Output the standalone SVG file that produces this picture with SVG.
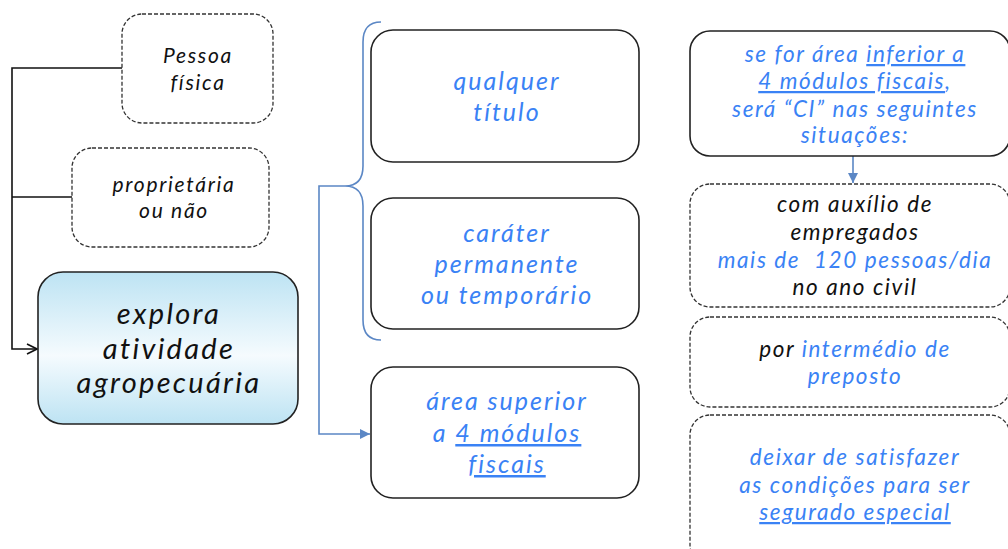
<svg xmlns="http://www.w3.org/2000/svg" width="1008" height="549" viewBox="0 0 1008 549">
<style>
text{font-family:Lato,"Liberation Sans",sans-serif;font-style:italic;text-anchor:middle}
.k{fill:#111}
.b{fill:#3a82f5}
.u{text-decoration:underline}
.s1{font-size:21px;letter-spacing:1.7px}
.s2{font-size:29px;letter-spacing:2.3px}
.s3{font-size:25px;letter-spacing:2px}
.s4{font-size:22.5px;letter-spacing:1.6px}
.solid{fill:#fff;stroke:#222;stroke-width:1.6}
.dash{fill:#fff;stroke:#333;stroke-width:1.3;stroke-dasharray:4 2}
.blk{fill:none;stroke:#111;stroke-width:1.6}
.blu{fill:none;stroke:#5b87c5;stroke-width:1.6}
</style>
<defs>
<linearGradient id="g" x1="0" y1="0" x2="0" y2="1">
<stop offset="0" stop-color="#bde3f3"/>
<stop offset="0.55" stop-color="#f5fbfe"/>
<stop offset="1" stop-color="#bde3f3"/>
</linearGradient>
<marker id="ab" viewBox="0 0 10 10" refX="10" refY="5" markerWidth="10" markerHeight="10" markerUnits="userSpaceOnUse" orient="auto">
<path d="M0,0 L10,5 L0,10 z" fill="#5b87c5"/>
</marker>
<marker id="ao" viewBox="0 0 12 12" refX="11" refY="6" markerWidth="12" markerHeight="12" markerUnits="userSpaceOnUse" orient="auto">
<path d="M1,1 L11,6 L1,11" fill="none" stroke="#111" stroke-width="1.6"/>
</marker>
</defs>
<g id="connectors">
<path class="blk" d="M122,68 H12 V349 H37" marker-end="url(#ao)"/>
<path class="blk" d="M72,197 H12"/>
<path class="blu" d="M381,22 Q363,22 363,42 V166 Q363,186 345,186 Q363,186 363,206 V320 Q363,340 381,340"/>
<path class="blu" d="M345,186 H319 V434 H370" marker-end="url(#ab)"/>
<path class="blu" d="M853,156 V183" marker-end="url(#ab)"/>
</g>
<g id="pessoa">
<rect class="dash" x="122" y="14" width="151" height="109" rx="20"/>
<text class="k s1"><tspan x="198" y="63">Pessoa</tspan><tspan x="198" y="90">física</tspan></text>
</g>
<g id="proprietaria">
<rect class="dash" x="72" y="148" width="197" height="99" rx="20"/>
<text class="k s1"><tspan x="174" y="192">proprietária</tspan><tspan x="174" y="218">ou não</tspan></text>
</g>
<g id="explora">
<rect x="38" y="272" width="260" height="152" rx="25" fill="url(#g)" stroke="#222" stroke-width="1.6"/>
<text class="k s2"><tspan x="169" y="324">explora</tspan><tspan x="169" y="359">atividade</tspan><tspan x="169" y="393">agropecuária</tspan></text>
</g>
<g id="qualquer">
<rect class="solid" x="371" y="30" width="268" height="132" rx="22"/>
<text class="b s3"><tspan x="507" y="90">qualquer</tspan><tspan x="507" y="121">título</tspan></text>
</g>
<g id="carater">
<rect class="solid" x="371" y="198" width="268" height="131" rx="22"/>
<text class="b s3"><tspan x="507" y="242">caráter</tspan><tspan x="507" y="273">permanente</tspan><tspan x="507" y="304">ou temporário</tspan></text>
</g>
<g id="area">
<rect class="solid" x="371" y="367" width="268" height="131" rx="22"/>
<text class="b s3"><tspan x="507" y="410">área superior</tspan><tspan x="507" y="442">a <tspan class="u">4 módulos</tspan></tspan><tspan x="507" y="473" class="u">fiscais</tspan></text>
</g>
<g id="inferior">
<rect class="solid" x="690" y="31" width="320" height="125" rx="20"/>
<text class="b s4"><tspan x="855" y="62">se for área <tspan class="u">inferior a</tspan></tspan><tspan x="855" y="89"><tspan class="u">4 módulos fiscais</tspan>,</tspan><tspan x="855" y="117">será “CI” nas seguintes</tspan><tspan x="855" y="143">situações:</tspan></text>
</g>
<g id="auxilio">
<rect class="dash" x="690" y="184" width="320" height="123" rx="20"/>
<text class="s4"><tspan x="855" y="212" class="k">com auxílio de</tspan><tspan x="855" y="240" class="k">empregados</tspan><tspan x="855" y="268" class="b">mais de&#160; 120 pessoas/dia</tspan><tspan x="855" y="295" class="k">no ano civil</tspan></text>
</g>
<g id="preposto">
<rect class="dash" x="690" y="317" width="320" height="90" rx="20"/>
<text class="s4"><tspan x="855" y="357" class="k">por <tspan class="b">intermédio de</tspan></tspan><tspan x="855" y="384" class="b">preposto</tspan></text>
</g>
<g id="deixar">
<rect class="dash" x="690" y="415" width="320" height="150" rx="20"/>
<text class="b s4"><tspan x="855" y="465">deixar de satisfazer</tspan><tspan x="855" y="493">as condições para ser</tspan><tspan x="855" y="520" class="u">segurado especial</tspan></text>
</g>
</svg>
